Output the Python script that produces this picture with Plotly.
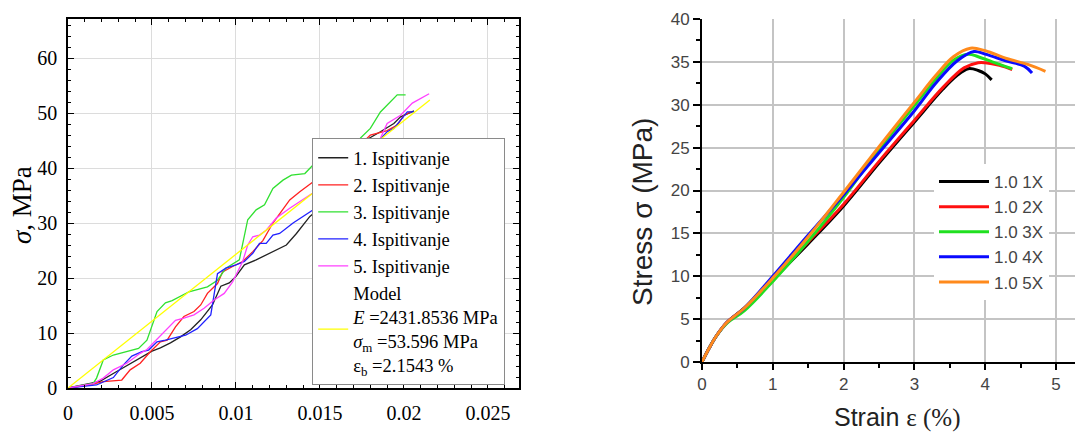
import plotly.graph_objects as go

# ---------------- Left chart data ----------------
s1_x = [0, 0.0019, 0.0029, 0.0039, 0.0050, 0.0055, 0.0061, 0.0067, 0.0073, 0.0079, 0.0086, 0.0091, 0.0096, 0.0100, 0.0105, 0.0112, 0.0120, 0.0130, 0.0136, 0.0144, 0.0150, 0.0163, 0.0178, 0.0186, 0.0194, 0.0198, 0.0206]
s1_y = [0, 1.2, 3.0, 4.8, 6.7, 7.3, 8.2, 9.3, 10.6, 12.4, 15.1, 18.5, 19.1, 20.3, 22.4, 23.3, 24.5, 26.0, 28.1, 31.2, 32.7, 38.5, 45.2, 46.6, 48.1, 49.3, 50.4]

s2_x = [0, 0.0013, 0.0021, 0.0032, 0.0037, 0.0043, 0.0049, 0.0055, 0.0059, 0.0064, 0.0069, 0.0075, 0.0079, 0.0083, 0.0089, 0.0092, 0.0098, 0.0104, 0.0110, 0.0116, 0.0122, 0.0132, 0.0138, 0.0146, 0.0160, 0.0177, 0.0180, 0.0190, 0.0196, 0.0200, 0.0204]
s2_y = [0, 0.55, 1.15, 1.45, 3.3, 4.5, 6.6, 8.4, 8.7, 11.1, 13.0, 13.9, 15.1, 17.2, 19.0, 21.1, 22.1, 23.0, 24.8, 26.8, 30.0, 34.2, 35.7, 37.5, 41.0, 45.1, 46.0, 46.8, 47.8, 49.6, 50.2]

s3_x = [0, 0.0015, 0.0017, 0.0021, 0.0027, 0.0035, 0.0042, 0.0047, 0.0053, 0.0058, 0.0062, 0.0072, 0.0083, 0.0089, 0.0094, 0.0102, 0.0107, 0.0112, 0.0117, 0.0122, 0.0128, 0.0133, 0.0141, 0.0146, 0.0160, 0.0174, 0.0180, 0.0186, 0.0196, 0.0201]
s3_y = [0, 0.85, 1.8, 5.1, 6.0, 6.6, 7.2, 8.7, 13.9, 15.5, 15.9, 17.5, 18.4, 19.6, 21.8, 23.3, 30.6, 32.4, 33.3, 36.3, 37.8, 38.7, 39.0, 40.6, 43.0, 45.4, 47.2, 50.2, 53.3, 53.3]

s4_x = [0, 0.0017, 0.0027, 0.0033, 0.0038, 0.0044, 0.0048, 0.0053, 0.0058, 0.0070, 0.0077, 0.0085, 0.0089, 0.0094, 0.0100, 0.0105, 0.0110, 0.0114, 0.0118, 0.0122, 0.0126, 0.0134, 0.0146, 0.0165, 0.0186, 0.0190, 0.0194, 0.0198, 0.0202, 0.0206]
s4_y = [0, 0.55, 1.9, 4.2, 5.8, 6.6, 6.9, 8.4, 8.7, 9.6, 10.8, 13.3, 20.8, 21.8, 22.4, 23.0, 24.5, 26.3, 26.3, 27.8, 28.1, 30.0, 32.4, 38.5, 45.4, 46.6, 47.2, 48.7, 50.2, 50.2]

s5_x = [0, 0.0015, 0.0021, 0.0027, 0.0035, 0.0043, 0.0047, 0.0053, 0.0059, 0.0064, 0.0069, 0.0075, 0.0081, 0.0087, 0.0093, 0.0098, 0.0104, 0.0107, 0.0110, 0.0114, 0.0118, 0.0124, 0.0132, 0.0146, 0.0165, 0.0186, 0.0190, 0.0198, 0.0205, 0.0210, 0.0215]
s5_y = [0, 0.8, 1.8, 3.3, 4.5, 6.3, 7.0, 8.9, 10.7, 12.3, 12.7, 13.3, 14.5, 16.0, 17.2, 19.3, 23.0, 26.0, 27.5, 27.8, 28.7, 30.9, 32.7, 35.5, 40.0, 45.4, 48.1, 49.6, 51.8, 52.7, 53.5]

model_x = [0, 0.021543]
model_y = [0, 52.39]

left_names = ["1. Ispitivanje", "2. Ispitivanje", "3. Ispitivanje", "4. Ispitivanje", "5. Ispitivanje",
              "Model<br><i>E</i> =2431.8536 MPa<br><i>σ</i><sub>m</sub> =53.596 MPa<br>ε<sub>b</sub> =2.1543 %"]
left_colors = ["#222222", "#ff2020", "#30e030", "#2020ff", "#ff40ff", "#ffff00"]

# ---------------- Right chart data ----------------
r1_x = [0, 0.1, 0.2, 0.35, 0.6, 1.0, 1.5, 2.0, 2.5, 3.0, 3.4, 3.6, 3.76, 3.9, 4.0, 4.09]
r1_y = [0, 1.6, 3.0, 4.6, 6.3, 9.6, 13.8, 18.2, 23.2, 28.0, 31.8, 33.4, 34.2, 34.0, 33.6, 32.9]
r2_x = [0, 0.1, 0.2, 0.35, 0.6, 1.0, 1.5, 2.0, 2.5, 3.0, 3.4, 3.7, 3.9, 4.0, 4.2, 4.38]
r2_y = [0, 1.6, 3.0, 4.6, 6.3, 9.7, 14.0, 18.4, 23.4, 28.2, 32.0, 34.3, 34.9, 34.9, 34.6, 34.1]
r3_x = [0, 0.1, 0.2, 0.35, 0.6, 1.0, 1.5, 2.0, 2.5, 3.0, 3.3, 3.55, 3.76, 3.9, 4.1, 4.38]
r3_y = [0, 1.6, 3.0, 4.5, 6.0, 9.4, 14.1, 19.2, 24.8, 29.9, 33.0, 35.2, 35.9, 35.6, 35.0, 34.2]
r4_x = [0, 0.1, 0.2, 0.35, 0.6, 1.0, 1.5, 2.0, 2.5, 3.0, 3.3, 3.6, 3.84, 4.0, 4.3, 4.55, 4.66]
r4_y = [0, 1.6, 3.0, 4.6, 6.3, 10.0, 14.8, 19.5, 24.4, 29.3, 32.5, 35.1, 36.2, 35.9, 35.1, 34.5, 33.7]
r5_x = [0, 0.1, 0.2, 0.35, 0.6, 1.0, 1.5, 2.0, 2.5, 3.0, 3.3, 3.55, 3.79, 4.0, 4.3, 4.6, 4.85]
r5_y = [0, 1.6, 3.0, 4.6, 6.3, 9.8, 14.6, 19.8, 25.1, 30.3, 33.4, 35.6, 36.6, 36.3, 35.4, 34.7, 33.9]

right_names = ["1.0 1X", "1.0 2X", "1.0 3X", "1.0 4X", "1.0 5X"]
right_colors = ["#000000", "#ff1010", "#20e020", "#0a0aff", "#ff8a1c"]

W, H = 1083, 434
OFF = 8  # page body margin offset

fig = go.Figure()

left_series = [(s1_x, s1_y), (s2_x, s2_y), (s3_x, s3_y), (s4_x, s4_y), (s5_x, s5_y), (model_x, model_y)]
for (xs, ys), name, col in zip(left_series, left_names, left_colors):
    fig.add_trace(go.Scatter(x=xs, y=ys, mode="lines", name=name,
                             line=dict(color=col, width=1.3),
                             xaxis="x", yaxis="y", legend="legend"))

right_series = [(r1_x, r1_y), (r2_x, r2_y), (r3_x, r3_y), (r4_x, r4_y), (r5_x, r5_y)]
for (xs, ys), name, col in zip(right_series, right_names, right_colors):
    fig.add_trace(go.Scatter(x=xs, y=ys, mode="lines", name=name,
                             line=dict(color=col, width=3, shape="spline"),
                             xaxis="x2", yaxis="y2", legend="legend2"))

serif = "Liberation Serif, Times New Roman, serif"
sans = "Liberation Sans, Arial, sans-serif"

def px_x(p):
    return (p - OFF) / W

def px_y(p):
    return 1 - (p - OFF) / H

fig.update_layout(
    width=W, height=H,
    margin=dict(l=0, r=0, t=0, b=0, autoexpand=False),
    paper_bgcolor="white", plot_bgcolor="white",
    showlegend=True,
    xaxis=dict(domain=[px_x(68), px_x(519)], range=[0, 0.02685], dtick=0.005,
               showgrid=True, gridcolor="#dcdcdc", gridwidth=1, zeroline=False,
               showline=True, linecolor="black", linewidth=1.5, mirror="allticks",
               ticks="inside", ticklen=6, tickcolor="black",
               minor=dict(dtick=0.001, ticks="inside", ticklen=3, tickcolor="black", showgrid=False),
               tickfont=dict(family=serif, size=20, color="black"), ticklabelstandoff=6,
               anchor="y", automargin=False),
    yaxis=dict(domain=[px_y(388), px_y(19)], range=[0, 67.1], dtick=10,
               showgrid=True, gridcolor="#dcdcdc", gridwidth=1, zeroline=False,
               showline=True, linecolor="black", linewidth=1.5, mirror="allticks",
               ticks="inside", ticklen=6, tickcolor="black",
               minor=dict(dtick=2, ticks="inside", ticklen=3, tickcolor="black", showgrid=False),
               tickfont=dict(family=serif, size=20, color="black"), ticklabelstandoff=5,
               anchor="x", automargin=False),
    xaxis2=dict(domain=[px_x(702), px_x(1083)], range=[0, 5.38], dtick=1,
                showgrid=True, gridcolor="#c4c4c4", gridwidth=1.5, zeroline=False,
                showline=True, linecolor="black", linewidth=2,
                ticks="outside", ticklen=6, tickcolor="black", tickwidth=1.5,
                minor=dict(dtick=0.5, ticks="outside", ticklen=4, tickcolor="black", showgrid=False),
                tickfont=dict(family=sans, size=17, color="#444444"),
                anchor="y2", automargin=False),
    yaxis2=dict(domain=[px_y(362), px_y(19)], range=[0, 40], dtick=5,
                showgrid=True, gridcolor="#c4c4c4", gridwidth=1.5, zeroline=False,
                showline=True, linecolor="black", linewidth=2,
                ticks="outside", ticklen=7, tickcolor="black", tickwidth=1.5,
                minor=dict(dtick=2.5, ticks="outside", ticklen=4, tickcolor="black", showgrid=False),
                tickfont=dict(family=sans, size=17, color="#444444"),
                anchor="x2", automargin=False),
    legend=dict(x=px_x(312), y=px_y(138), xanchor="left", yanchor="top",
                bgcolor="white", bordercolor="#8a8a8a", borderwidth=1.2,
                font=dict(family=serif, size=18.5, color="black"),
                tracegroupgap=0, itemwidth=30),
    legend2=dict(x=px_x(934), y=px_y(164), xanchor="left", yanchor="top",
                 bgcolor="white", borderwidth=0,
                 font=dict(family=sans, size=17, color="#444444"),
                 tracegroupgap=0, itemwidth=50),
    annotations=[
        dict(text="<i>σ</i>, MPa", x=px_x(22), y=px_y(205), xref="paper", yref="paper",
             xanchor="center", yanchor="middle",
             textangle=-90, showarrow=False, font=dict(family=serif, size=27, color="black")),
        dict(text="<i>ε</i>", x=px_x(293), y=px_y(423), xref="paper", yref="paper",
             xanchor="center", yanchor="top", showarrow=False, font=dict(family=serif, size=24, color="black")),
        dict(text="Stress σ (MPa)", x=px_x(643), y=px_y(212), xref="paper", yref="paper",
             xanchor="center", yanchor="middle",
             textangle=-90, showarrow=False, font=dict(family=sans, size=28, color="#222222")),
        dict(text="Strain <span style='font-family:Liberation Serif'>ε (%)</span>", x=px_x(897), y=px_y(417),
             xref="paper", yref="paper", xanchor="center", yanchor="middle", showarrow=False,
             font=dict(family=sans, size=25, color="#222222")),
    ],
)

fig.write_html("out.html")
